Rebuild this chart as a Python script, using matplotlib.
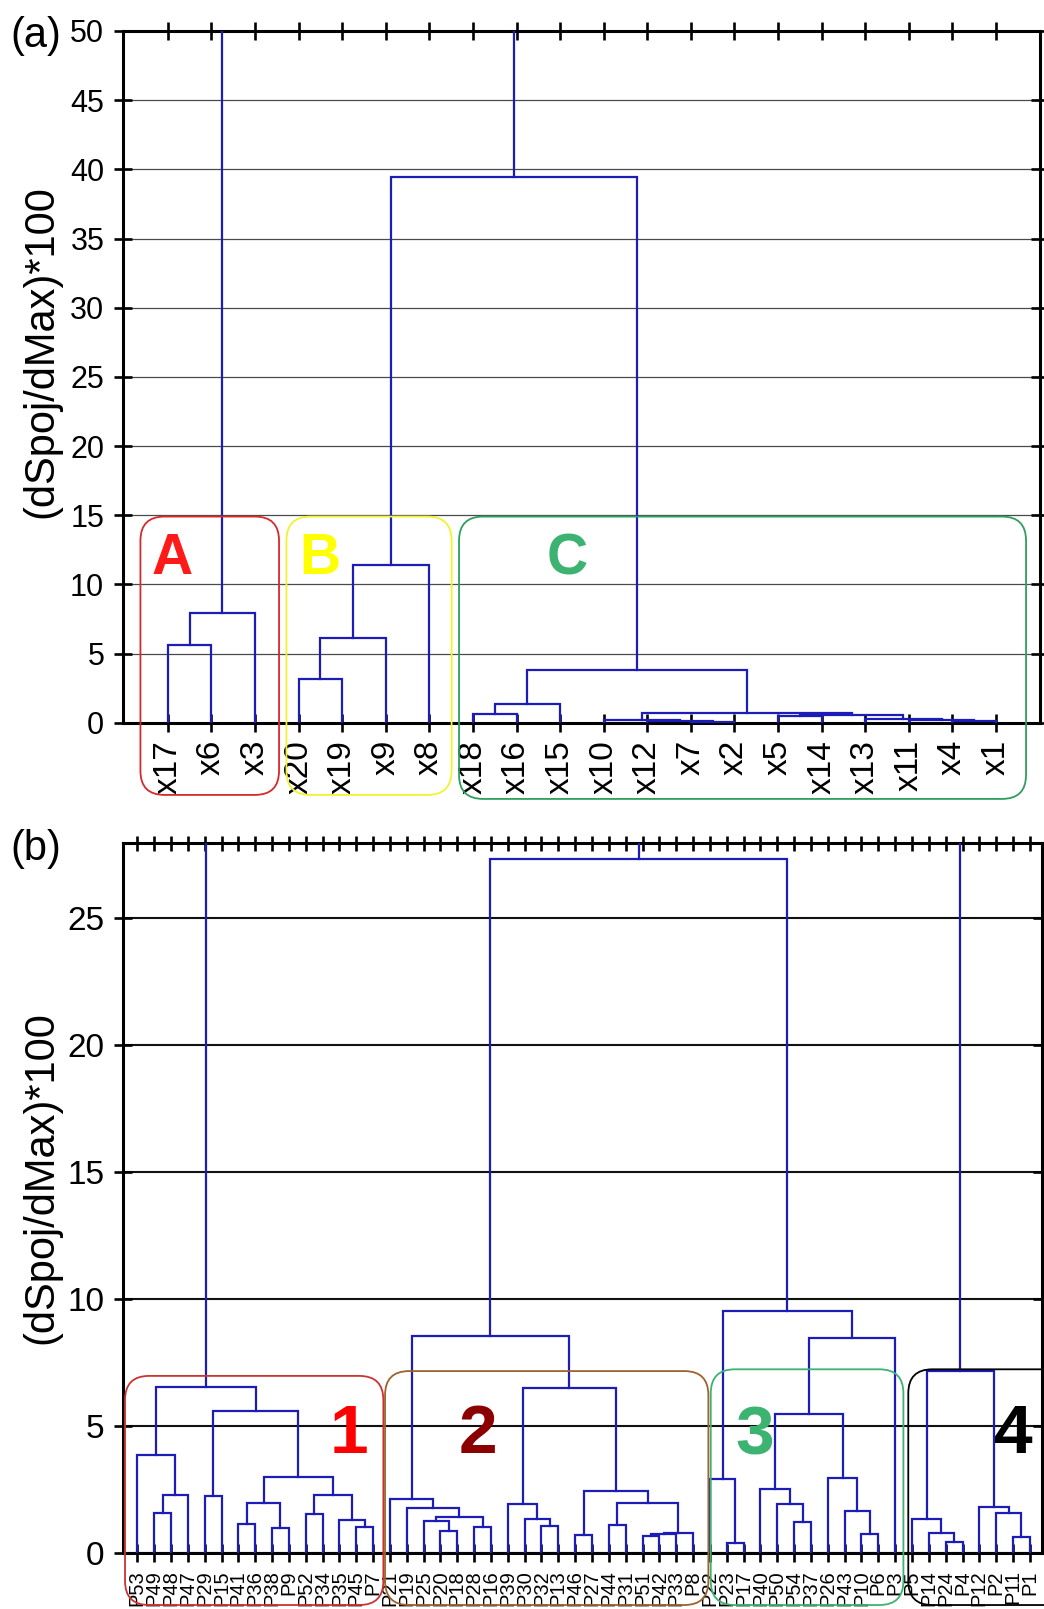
import matplotlib
matplotlib.use('Agg')
import matplotlib.pyplot as plt
from matplotlib.patches import FancyBboxPatch
from matplotlib.transforms import IdentityTransform

plt.rcParams['font.family'] = ['Liberation Sans', 'DejaVu Sans']

# ---------------- data: panel (a) ----------------
leaves_a = ['x17', 'x6', 'x3', 'x20', 'x19', 'x9', 'x8', 'x18', 'x16', 'x15',
            'x10', 'x12', 'x7', 'x2', 'x5', 'x14', 'x13', 'x11', 'x4', 'x1']
# (left child, right child, height); int = index of an earlier merge
links_a = [
    ('x17', 'x6', 5.6), (0, 'x3', 7.95),
    ('x20', 'x19', 3.13), (2, 'x9', 6.14), (3, 'x8', 11.4),
    ('x18', 'x16', 0.61), (5, 'x15', 1.37),
    ('x7', 'x2', 0.05), ('x12', 7, 0.10), ('x10', 8, 0.17),
    ('x4', 'x1', 0.10), ('x11', 10, 0.22), ('x13', 11, 0.30),
    ('x5', 'x14', 0.45), (13, 12, 0.55), (9, 14, 0.70),
    (6, 15, 3.81), (4, 16, 39.45), (1, 17, 56.0),
]
yticks_a = list(range(0, 51, 5))

# ---------------- data: panel (b) ----------------
leaves_b = ['P53', 'P49', 'P48', 'P47', 'P29', 'P15', 'P41', 'P36', 'P38', 'P9',
            'P52', 'P34', 'P35', 'P45', 'P7',
            'P21', 'P19', 'P25', 'P20', 'P18', 'P28', 'P16', 'P39', 'P30', 'P32',
            'P13', 'P46', 'P27', 'P44', 'P31', 'P51', 'P42', 'P33', 'P8',
            'P22', 'P23', 'P17', 'P40', 'P50', 'P54', 'P37', 'P26', 'P43', 'P10',
            'P6', 'P3',
            'P5', 'P14', 'P24', 'P4', 'P12', 'P2', 'P11', 'P1']
links_b = [
    # cluster 1
    ('P49', 'P48', 1.55), (0, 'P47', 2.28), ('P53', 1, 3.86),
    ('P29', 'P15', 2.23), ('P41', 'P36', 1.13), ('P38', 'P9', 0.96),
    (4, 5, 1.97), ('P45', 'P7', 1.0), ('P35', 7, 1.29), ('P52', 'P34', 1.53),
    (9, 8, 2.28), (6, 10, 2.99), (3, 11, 5.59), (2, 12, 6.51),
    # cluster 2
    ('P20', 'P18', 0.84), ('P25', 14, 1.24), ('P28', 'P16', 1.0), (15, 16, 1.39),
    ('P19', 17, 1.76), ('P21', 18, 2.13), ('P32', 'P13', 1.05), ('P30', 20, 1.31),
    ('P39', 21, 1.92), ('P46', 'P27', 0.68), ('P44', 'P31', 1.10),
    ('P51', 'P42', 0.66), (25, 'P33', 0.74), (26, 'P8', 0.79), (24, 27, 1.97),
    (23, 28, 2.44), (22, 29, 6.48), (19, 30, 8.55),
    # cluster 3
    ('P23', 'P17', 0.38), ('P22', 32, 2.89), ('P54', 'P37', 1.21),
    ('P50', 34, 1.90), ('P40', 35, 2.49), ('P10', 'P6', 0.72), ('P43', 37, 1.64),
    ('P26', 38, 2.93), (36, 39, 5.47), (40, 'P3', 8.47), (33, 41, 9.51),
    (31, 42, 27.3),
    # cluster 4
    ('P24', 'P4', 0.43), ('P14', 44, 0.76), ('P5', 45, 1.34), ('P11', 'P1', 0.63),
    ('P2', 47, 1.55), ('P12', 48, 1.80), (46, 49, 7.17),
    # top joins (above the visible range)
    (13, 43, 31.0), (51, 50, 33.0),
]
yticks_b = list(range(0, 26, 5))

# group annotations: name, x0, x1, y0, y1 (data units), edge colour, text colour, text x, text y
groups_a = [('A', -0.63, 2.55, -5.22, 14.9, '#d42a2a', '#ff1a1a', 0.09, 11.8),
            ('B', 2.72, 6.51, -5.22, 14.9, '#f2f230', '#ffff00', 3.49, 11.8),
            ('C', 6.68, 19.69, -5.51, 14.9, '#2e9e5e', '#3cb371', 9.17, 11.8)]
groups_b = [('1', -0.73, 14.61, -2.06, 6.96, '#cc3333', '#ff0000', 12.57, 4.65),
            ('2', 14.71, 33.91, -2.06, 7.15, '#a0622d', '#8b0000', 20.25, 4.65),
            ('3', 34.05, 45.49, -2.06, 7.22, '#3cb371', '#3cb371', 36.65, 4.57),
            ('4', 45.78, 56.0, -2.06, 7.22, '#000000', '#000000', 52.0, 4.65)]

LINE = '#1c1cb8'
W, H = 1044, 1609
fig = plt.figure(figsize=(W / 100, H / 100), dpi=100)


def add_ax(l, r, t, b):
    return fig.add_axes([l / W, 1 - b / H, (r - l) / W, (b - t) / H])


def draw_dendro(ax, leaves, links):
    pos = {n: i for i, n in enumerate(leaves)}
    nx, nh = [], []

    def get(c):
        if isinstance(c, str):
            return pos[c], 0.0
        return nx[c], nh[c]

    for l, r, h in links:
        xl, hl = get(l)
        xr, hr = get(r)
        ax.plot([xl, xl, xr, xr], [hl, h, h, hr], color=LINE, lw=1.6,
                solid_joinstyle='miter', zorder=3)
        nx.append((xl + xr) / 2)
        nh.append(h)


def rbox(ax, x0, x1, y0, y1, color, r=24, lw=1.3):
    p0 = ax.transData.transform((x0, y0))
    p1 = ax.transData.transform((x1, y1))
    patch = FancyBboxPatch((p0[0], p0[1]), p1[0] - p0[0], p1[1] - p0[1],
                           boxstyle=f"round,pad=0,rounding_size={r}",
                           transform=IdentityTransform(), fill=False,
                           edgecolor=color, lw=lw, clip_on=False, zorder=5)
    fig.add_artist(patch)


def style(ax, leaves, yticks, ylim, xlim, grid_color, grid_lw, leaf_fs, ytick_fs,
          top_len, leaf_pad):
    ax.set_xlim(*xlim)
    ax.set_ylim(*ylim)
    ax.set_xticks(range(len(leaves)))
    ax.set_xticklabels(leaves, rotation=90, fontsize=leaf_fs)
    ax.set_yticks(yticks)
    ax.set_yticklabels([str(v) for v in yticks], fontsize=ytick_fs)
    ax.tick_params(axis='x', bottom=True, top=True, direction='inout', length=13,
                   width=1.9, pad=leaf_pad)
    for t in ax.xaxis.get_major_ticks():
        t.tick2line.set_markersize(top_len)
    ax.tick_params(axis='y', left=True, right=True, direction='inout', length=13,
                   width=1.9, pad=7)
    for s in ax.spines.values():
        s.set_linewidth(2.2)
        s.set_color('black')
    ax.yaxis.grid(True, color=grid_color, lw=grid_lw)
    ax.set_axisbelow(True)


# ---------------- panel (a) ----------------
axa = add_ax(123, 1040, 31, 722.7)
draw_dendro(axa, leaves_a, links_a)
style(axa, leaves_a, yticks_a, (0, 50), (-1.03, 20.01), '#4a4a4a', 0.9, 24, 22, 13, 6)
for name, x0, x1, y0, y1, ec, tc, tx, ty in groups_a:
    rbox(axa, x0, x1, y0, y1, ec)
    axa.text(tx, ty, name, color=tc, fontsize=41, fontweight='bold',
             ha='center', va='center', zorder=6, clip_on=False)

# ---------------- panel (b) ----------------
axb = add_ax(123, 1042, 843, 1552.7)
draw_dendro(axb, leaves_b, links_b)
style(axb, leaves_b, yticks_b, (0, 27.94), (-0.85, 53.72), '#111111', 1.5, 14.5, 24,
      10.8, 6)
for name, x0, x1, y0, y1, ec, tc, tx, ty in groups_b:
    rbox(axb, x0, x1, y0, y1, ec)
    axb.text(tx, ty, name, color=tc, fontsize=50, fontweight='bold',
             ha='center', va='center', zorder=6, clip_on=False)

# labels
fig.text(41 / W, 1 - 352 / H, '(dSpoj/dMax)*100', rotation=90, fontsize=30,
         ha='center', va='center')
fig.text(41 / W, 1 - 1178 / H, '(dSpoj/dMax)*100', rotation=90, fontsize=30,
         ha='center', va='center')
fig.text(10 / W, 1 - 36 / H, '(a)', fontsize=30, ha='left', va='center')
fig.text(10 / W, 1 - 849 / H, '(b)', fontsize=30, ha='left', va='center')

fig.savefig('out.png', dpi=100)
